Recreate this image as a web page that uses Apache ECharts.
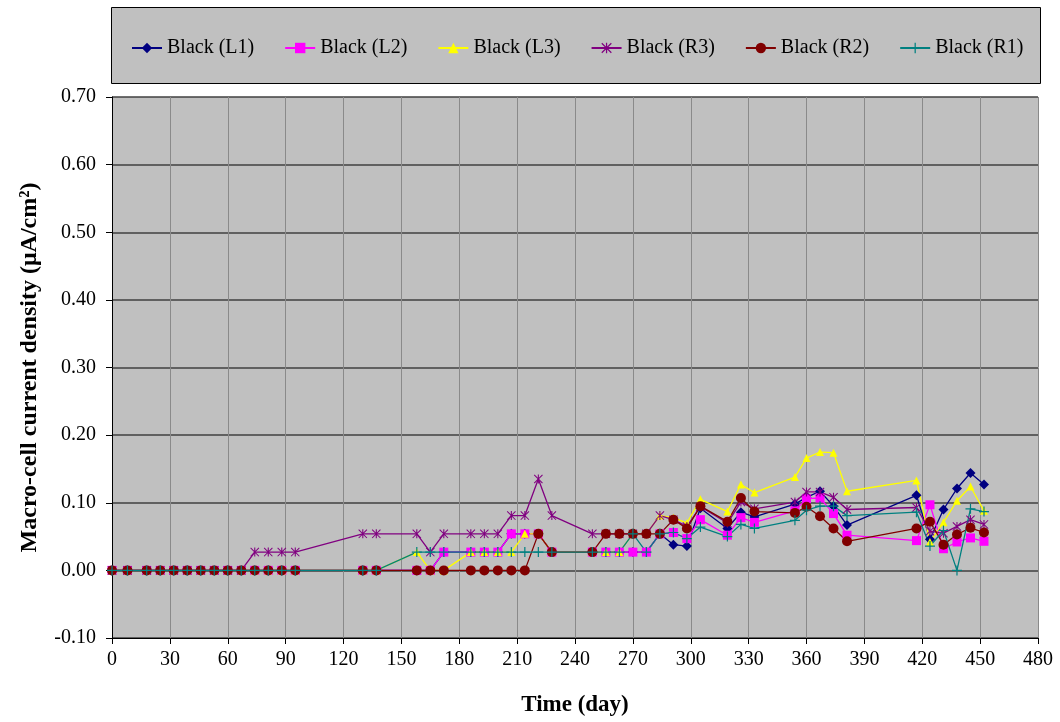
<!DOCTYPE html>
<html>
<head>
<meta charset="utf-8">
<script src="https://cdn.jsdelivr.net/npm/echarts@6/dist/echarts.min.js"></script>
<style>
html,body{margin:0;padding:0;background:#fff;}
#chart{width:1060px;height:722px;}
</style>
</head>
<body>
<div id="chart"></div>
<script>
// Days of measurement (x values)
const days = [0,8,18,25,32,39,46,53,60,67,74,81,88,95,130,137,
  158,165,172, 186,193,200,207,214,221,228, 249,256,263,270,277,
  284,291,298,305, 319,326,333, 354,360,367,374,381, 417,424,431,438,445,452];

const seriesNames = ['Black (L1)','Black (L2)','Black (L3)','Black (R3)','Black (R2)','Black (R1)'];

const blackL1 = [0,0,0,0,0,0,0,0,0,0,0,0,0,0,0,0,
  0,0,0.027, 0.027,0.027,0.027,0.054,0.054,0.054,0.027, 0.027,0.027,0.027,0.027,0.027,
  0.054,0.038,0.036,0.092, 0.062,0.086,0.079, 0.098,0.108,0.117,0.095,0.067, 0.111,0.046,0.090,0.121,0.144,0.127];

const blackL2 = [0,0,0,0,0,0,0,0,0,0,0,0,0,0,0,0,
  0,0,0.027, 0.027,0.027,0.027,0.054,0.054,0.054,0.027, 0.027,0.027,0.027,0.027,0.027,
  0.054,0.056,0.047,0.075, 0.052,0.078,0.071, 0.088,0.106,0.107,0.084,0.052, 0.044,0.097,0.032,0.042,0.048,0.043];

const blackL3 = [0,0,0,0,0,0,0,0,0,0,0,0,0,0,0,0,
  0.027,0,0, 0.027,0.027,0.027,0.027,0.054,0.054,0.027, 0.027,0.027,0.027,0.054,0.054,
  0.081,0.078,0.070,0.105, 0.087,0.127,0.115, 0.138,0.166,0.175,0.174,0.117, 0.133,0.042,0.071,0.103,0.124,0.088];

const blackR3 = [0,0,0,0,0,0,0,0,0,0,0.027,0.027,0.027,0.027,0.054,0.054,
  0.054,0.027,0.054, 0.054,0.054,0.054,0.081,0.081,0.135,0.081, 0.054,0.054,0.054,0.054,0.054,
  0.081,0.075,0.065,0.094, 0.070,0.101,0.091, 0.101,0.116,0.116,0.108,0.090, 0.093,0.058,0.055,0.065,0.075,0.068];

const blackR2 = [0,0,0,0,0,0,0,0,0,0,0,0,0,0,0,0,
  0,0,0, 0,0,0,0,0,0.054,0.027, 0.027,0.054,0.054,0.054,0.054,
  0.054,0.075,0.062,0.095, 0.072,0.107,0.087, 0.085,0.094,0.080,0.062,0.043, 0.062,0.072,0.038,0.053,0.063,0.056];

const blackR1 = [0,0,0,0,0,0,0,0,0,0,0,0,0,0,0,0,
  0.027,0.027,0.027, 0.027,0.027,0.027,0.027,0.027,0.027,0.027, 0.027,0.027,0.027,0.054,0.027,
  0.054,0.056,0.047,0.064, 0.050,0.068,0.062, 0.074,0.089,0.095,0.095,0.081, 0.086,0.036,0.059,0,0.091,0.087];

const xTicks = {min:0, max:480, interval:30};
const yTicks = {min:-0.1, max:0.7, interval:0.1};

const font = "'Liberation Serif','Times New Roman',serif";
const asterisk = 'path://M4.4,0L5.6,0L5.6,10L4.4,10Z M0,0.8L0.8,0L10,9.2L9.2,10Z M9.2,0L10,0.8L0.8,10L0,9.2Z';
const plus = 'path://M4.4,0L5.6,0L5.6,4.4L10,4.4L10,5.6L5.6,5.6L5.6,10L4.4,10L4.4,5.6L0,5.6L0,4.4L4.4,4.4Z';

const styles = [
  {color:'#000080', symbol:'diamond', size:10},
  {color:'#FF00FF', symbol:'rect', size:9},
  {color:'#FFFF00', symbol:'triangle', size:8},
  {color:'#800080', symbol:asterisk, size:9},
  {color:'#800000', symbol:'circle', size:10},
  {color:'#008080', symbol:plus, size:10}
];
const values = [blackL1, blackL2, blackL3, blackR3, blackR2, blackR1];

const chart = echarts.init(document.getElementById('chart'));
chart.setOption({
  animation:false,
  backgroundColor:'#ffffff',
  graphic:[{
    type:'rect', left:111, top:7, z:-10,
    shape:{width:929, height:76},
    style:{fill:'#C0C0C0', stroke:'#000000', lineWidth:1}
  }],
  legend:{
    top:33, left:126,
    itemWidth:30, itemHeight:13, itemGap:30,
    textStyle:{fontFamily:font, fontSize:20, color:'#000'},
    data:seriesNames
  },
  grid:{
    left:112, right:22, top:97, bottom:84,
    show:true, backgroundColor:'#C0C0C0', borderWidth:0
  },
  xAxis:{
    type:'value', min:xTicks.min, max:xTicks.max, interval:xTicks.interval,
    name:'Time (day)', nameLocation:'middle', nameGap:56,
    nameTextStyle:{fontFamily:font, fontSize:23, fontWeight:'bold', color:'#000'},
    axisLine:{onZero:false, lineStyle:{color:'#000', width:1}},
    axisTick:{show:true, length:6, lineStyle:{color:'#000'}},
    axisLabel:{fontFamily:font, fontSize:20, color:'#000', margin:12},
    splitLine:{show:true, lineStyle:{color:'#8a8a8a', width:1}}
  },
  yAxis:{
    type:'value', min:yTicks.min, max:yTicks.max, interval:yTicks.interval,
    name:'Macro-cell current density (\u03bcA/cm\u00b2)', nameLocation:'middle', nameGap:70,
    nameTextStyle:{fontFamily:font, fontSize:24, fontWeight:'bold', color:'#000'},
    axisLine:{show:true, lineStyle:{color:'#000', width:1}},
    axisTick:{show:true, length:6, lineStyle:{color:'#000'}},
    axisLabel:{fontFamily:font, fontSize:20, color:'#000', margin:16,
      formatter:v=>v.toFixed(2)},
    splitLine:{show:true, lineStyle:{color:'#404040', width:1.5}}
  },
  series:seriesNames.map((n,i)=>({
    name:n, type:'line',
    data:days.map((d,j)=>[d, values[i][j]]),
    symbol:styles[i].symbol, symbolSize:styles[i].size, showAllSymbol:true,
    itemStyle:{color:styles[i].color, borderWidth:0},
    lineStyle:{color:styles[i].color, width:1.3}
  }))
});
</script>
</body>
</html>
